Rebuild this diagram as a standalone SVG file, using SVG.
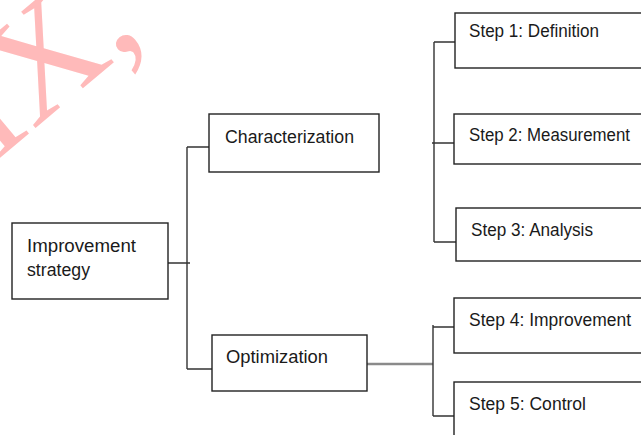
<svg xmlns="http://www.w3.org/2000/svg" width="641" height="435" viewBox="0 0 641 435">
<style>
.box{fill:#fff;stroke:#222;stroke-width:1.4}
.lbl{font-family:"Liberation Sans","DejaVu Sans",sans-serif;font-size:17.5px;fill:#1a1a1a}
.ln{fill:none;stroke:#333;stroke-width:1.4}
.ln2{fill:none;stroke:#8a8a8a;stroke-width:2.4}
.wm{font-family:"Liberation Serif","DejaVu Serif",serif;font-size:150px;fill:#ffbaba}
</style>
<rect width="641" height="435" fill="#fff"/>
<text class="wm" transform="translate(33,130) rotate(-40)" x="-50">IX,</text>
<g id="connectors">
<path class="ln" d="M168,263H190M187,147V369M187,147H209M187,369H212"/>
<path class="ln2" d="M367,364H433"/>
<path class="ln" d="M433,325V416M433,327H454M433,416H454"/>
<path class="ln" d="M434,42V242M434,42H455M432,143H454M434,242H456"/>
</g>
<g id="improvement-strategy">
<rect class="box" x="12" y="223" width="156" height="76"/>
<text class="lbl" x="27" y="252" textLength="109" lengthAdjust="spacingAndGlyphs">Improvement</text>
<text class="lbl" x="27" y="276" textLength="63" lengthAdjust="spacingAndGlyphs">strategy</text>
</g>
<g id="characterization">
<rect class="box" x="209" y="114" width="170" height="58"/>
<text class="lbl" x="225" y="143" textLength="129" lengthAdjust="spacingAndGlyphs">Characterization</text>
</g>
<g id="optimization">
<rect class="box" x="212" y="335" width="155" height="56"/>
<text class="lbl" x="226" y="363" textLength="102" lengthAdjust="spacingAndGlyphs">Optimization</text>
</g>
<g id="step1">
<rect class="box" x="455" y="13" width="200" height="55"/>
<text class="lbl" x="469" y="37" textLength="130" lengthAdjust="spacingAndGlyphs">Step 1: Definition</text>
</g>
<g id="step2">
<rect class="box" x="454" y="114" width="200" height="50"/>
<text class="lbl" x="469" y="141" textLength="161" lengthAdjust="spacingAndGlyphs">Step 2: Measurement</text>
</g>
<g id="step3">
<rect class="box" x="456" y="208" width="200" height="53"/>
<text class="lbl" x="471" y="236" textLength="122" lengthAdjust="spacingAndGlyphs">Step 3: Analysis</text>
</g>
<g id="step4">
<rect class="box" x="454" y="298" width="200" height="55"/>
<text class="lbl" x="469" y="326" textLength="162" lengthAdjust="spacingAndGlyphs">Step 4: Improvement</text>
</g>
<g id="step5">
<rect class="box" x="454" y="382" width="200" height="70"/>
<text class="lbl" x="469" y="410" textLength="117" lengthAdjust="spacingAndGlyphs">Step 5: Control</text>
</g>
</svg>
